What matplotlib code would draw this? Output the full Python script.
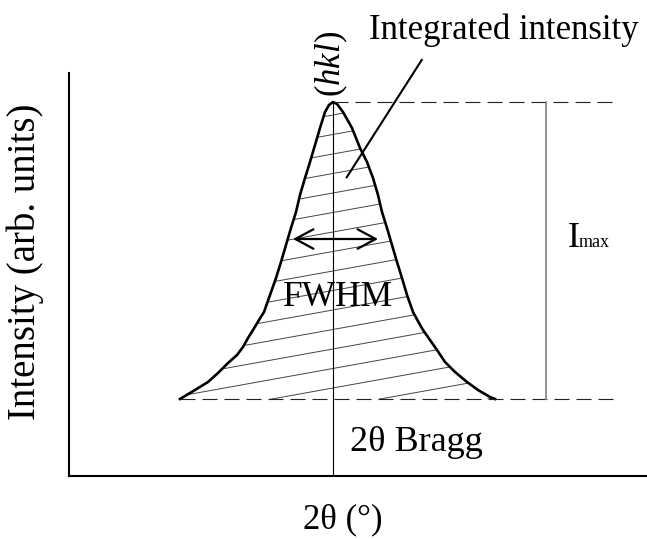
import numpy as np
import matplotlib.pyplot as plt
from matplotlib.patches import Polygon

plt.rcParams['font.family'] = ['Liberation Serif', 'DejaVu Serif']
plt.rcParams['mathtext.fontset'] = 'custom'
plt.rcParams['mathtext.rm'] = 'Liberation Serif'
plt.rcParams['mathtext.it'] = 'Liberation Serif:italic'

# peak profile (2theta, intensity), arbitrary units
two_theta = [111, 126, 139, 149, 159, 168, 174, 179, 184, 190, 195, 201, 207, 212,
             217, 222, 227, 231, 236, 241, 246, 251, 256, 260, 264,
             268, 274, 283, 291, 298, 304, 309, 313, 318, 323, 328, 333, 338, 344,
             350, 354, 361, 368, 376, 386, 398, 409, 421, 426]
intensity = [77, 86, 94, 103, 113, 121, 129, 138, 146, 156, 164, 181, 198, 214,
             231, 248, 264, 281, 298, 314, 331, 348, 364, 371, 374,
             372, 364, 348, 328, 314, 298, 281, 264, 248, 231, 214, 198, 181, 164,
             153, 146, 136, 126, 114, 104, 94, 86, 79, 77]

baseline = 77
bragg = 264
i_max = 374
dash_end = 546
imax_x = 477
fwhm_left = 224
fwhm_right = 309
half_level = 237

fig = plt.figure(figsize=(6.47, 5.39), dpi=100)
ax = fig.add_axes([69 / 647, 63 / 539, 578 / 647, 403 / 539])
ax.set_xlim(0, 578)
ax.set_ylim(0, 403)
ax.spines[['top', 'right']].set_visible(False)
ax.spines[['left', 'bottom']].set_linewidth(1.5)
ax.set_xticks([])
ax.set_yticks([])

# hatching inside the peak
area = Polygon(np.column_stack([two_theta, intensity]), closed=True,
               facecolor='none', edgecolor='none')
ax.add_patch(area)
slope = 0.18
for k in range(-2, 20):
    c = 313.5 - 19.5 * k
    ln, = ax.plot([0, 578], [c, c + slope * 578], color='#444444', lw=0.7)
    ln.set_clip_path(area)

ax.plot(two_theta, intensity, color='black', lw=1.9, solid_joinstyle='round')

dash = (0, (13.5, 6.3))
ax.plot([bragg, dash_end], [i_max, i_max], color='#222222', lw=0.8, linestyle=dash)
ax.plot([two_theta[0], dash_end], [baseline, baseline], color='#222222', lw=0.8,
        linestyle=dash)
ax.plot([bragg, bragg], [0, i_max], color='black', lw=0.8)
ax.plot([imax_x, imax_x], [baseline, i_max], color='#888888', lw=1.3)

ax.annotate('', xy=(fwhm_left, half_level), xytext=(fwhm_right, half_level),
            arrowprops=dict(arrowstyle='<->,head_length=0.65,head_width=0.35',
                            lw=1.6, color='black', mutation_scale=20,
                            shrinkA=0, shrinkB=0))

ax.plot([352.7, 277.7], [416, 298.7], color='black', lw=1.5, clip_on=False)
ax.text(434.5, 436.7, 'Integrated intensity', fontsize=25, ha='center', va='baseline')
ax.text(262.5, 412, r'($\mathit{hkl}$)', fontsize=25, rotation=90,
        ha='center', va='center')

ax.text(269, 170, 'FWHM', fontsize=25.5, ha='center', va='baseline')
ax.text(281, 25.3, '2θ Bragg', fontsize=26, ha='left', va='baseline')
ax.text(499, 229, 'I', fontsize=26, ha='left', va='baseline')
ax.text(510, 229, 'max', fontsize=13, ha='left', va='baseline')
ax.text(274, -52, '2θ (°)', fontsize=25, ha='center', va='baseline')
ax.text(-44, 214.5, 'Intensity (arb. units)', fontsize=28, rotation=90,
        ha='center', va='center')

plt.savefig('out.png', dpi=100)
